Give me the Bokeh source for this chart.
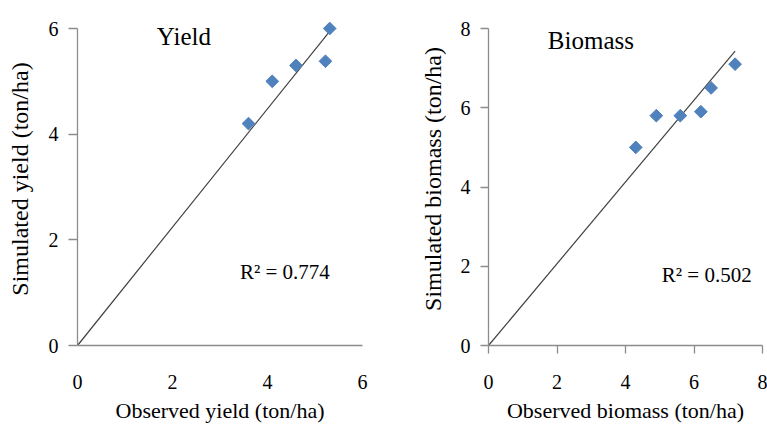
import numpy as np
from bokeh.plotting import figure
from bokeh.layouts import row
from bokeh.models import Label, Range1d, FixedTicker
from bokeh.embed import file_html
from bokeh.resources import INLINE

# ---- data ----
obs_yield = [3.6, 4.1, 4.6, 5.22, 5.31]
sim_yield = [4.2, 5.0, 5.3, 5.38, 6.0]
yield_fit_x = [0, 5.33]
yield_fit_y = [0, 5.97]
yield_r2 = "R² = 0.774"

obs_bio = [4.3, 4.9, 5.6, 6.2, 6.5, 7.2]
sim_bio = [5.0, 5.8, 5.8, 5.9, 6.5, 7.1]
bio_fit_x = [0, 7.2]
bio_fit_y = [0, 7.43]
bio_r2 = "R² = 0.502"

yield_ticks = [0, 2, 4, 6]
bio_ticks = [0, 2, 4, 6, 8]

FONT = "Liberation Serif"
AXIS_COLOR = "#8c8c8c"
MARKER_COLOR = "#4f81bd"

TOP = 12        # frame top (pixels)
AXIS_TOP = 28   # where the top tick sits
BOTTOM = 80


def make_panel(width, border_left, border_right, xmax, ymax, ticks_x, ticks_y,
               xs, ys, fx, fy, title, title_xy, r2, r2_xy, xlabel, ylabel,
               x_tick_out, y_tick_out, x_standoff, y_label_standoff):
    frame_h = 425 - TOP - BOTTOM
    axis_h = 425 - AXIS_TOP - BOTTOM
    yend = ymax * frame_h / axis_h
    p = figure(width=width, height=425, output_backend="svg", toolbar_location=None,
               x_range=Range1d(0, xmax), y_range=Range1d(0, yend),
               min_border_left=border_left, min_border_right=border_right,
               min_border_top=TOP, min_border_bottom=BOTTOM)
    p.outline_line_color = None
    p.grid.grid_line_color = None
    p.background_fill_color = "white"
    p.border_fill_color = "white"

    for ax in (p.xaxis[0], p.yaxis[0]):
        ax.axis_line_color = AXIS_COLOR
        ax.axis_line_width = 1.3
        ax.major_tick_line_color = AXIS_COLOR
        ax.major_tick_line_width = 1.3
        ax.minor_tick_line_color = None
        ax.major_tick_in = 0
        ax.major_label_text_font = FONT
        ax.major_label_text_font_size = "20px"
        ax.major_label_text_color = "black"
        ax.axis_label_text_font = FONT
        ax.axis_label_text_font_style = "normal"
        ax.axis_label_text_color = "black"

    p.yaxis[0].bounds = (0, ymax)
    p.xaxis[0].ticker = FixedTicker(ticks=ticks_x)
    p.yaxis[0].ticker = FixedTicker(ticks=ticks_y)
    p.xaxis[0].major_tick_out = x_tick_out
    p.yaxis[0].major_tick_out = y_tick_out
    p.xaxis[0].major_label_standoff = x_standoff
    p.yaxis[0].major_label_standoff = 10
    p.xaxis[0].axis_label = xlabel
    p.yaxis[0].axis_label = ylabel
    p.xaxis[0].axis_label_text_font_size = "22px"
    p.yaxis[0].axis_label_text_font_size = "24px"
    p.xaxis[0].axis_label_standoff = 6
    p.yaxis[0].axis_label_standoff = y_label_standoff

    p.line(fx, fy, line_color="#404040", line_width=1.2)
    p.scatter(xs, ys, marker="square", angle=np.pi / 4, size=9,
              fill_color=MARKER_COLOR, line_color=MARKER_COLOR)

    p.add_layout(Label(x=title_xy[0], y=title_xy[1], text=title, text_font=FONT,
                       text_font_size="25px", text_align="center",
                       text_baseline="middle", text_color="black"))
    p.add_layout(Label(x=r2_xy[0], y=r2_xy[1], text=r2, text_font=FONT,
                       text_font_size="21px", text_align="left",
                       text_baseline="middle", text_color="black"))
    return p


p1 = make_panel(383, 77, 21, 6, 6, yield_ticks, yield_ticks,
                obs_yield, sim_yield, yield_fit_x, yield_fit_y,
                "Yield", (2.24, 5.84), yield_r2, (3.42, 1.39),
                "Observed yield (ton/ha)", "Simulated yield (ton/ha)",
                0, 9, 29, 13)
p2 = make_panel(384, 105, 5, 8, 8, bio_ticks, bio_ticks,
                obs_bio, sim_bio, bio_fit_x, bio_fit_y,
                "Biomass", (2.99, 7.70), bio_r2, (5.06, 1.79),
                "Observed biomass (ton/ha)", "Simulated biomass (ton/ha)",
                8, 8, 21, 12)

layout = row(p1, p2)
open("out.html", "w").write(file_html(layout, INLINE))
